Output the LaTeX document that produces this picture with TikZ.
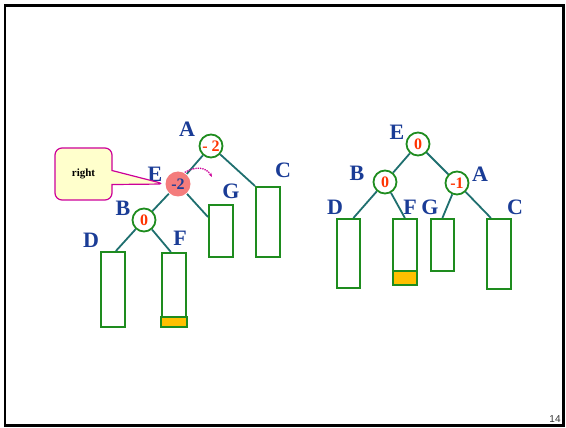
\documentclass[tikz,border=0pt]{standalone}
\usepackage{fontspec}
\setmainfont{Liberation Serif}
\setsansfont{Liberation Sans}
\usetikzlibrary{
    arrows.meta,
    shapes.callouts
}
\definecolor{keyblue}{HTML}{1A3C96}
\definecolor{balred}{HTML}{FF3300}
\definecolor{boxgreen}{HTML}{1E8C1E}
\definecolor{edgeteal}{HTML}{1F6F6F}
\definecolor{hotpink}{HTML}{F47C7C}
\definecolor{notefill}{HTML}{FFFFCC}
\definecolor{noteline}{HTML}{CC0099}
\definecolor{grownfill}{HTML}{FFC000}
\tikzset{
    % Tree parts
    edge/.style={draw=edgeteal,line width=1.8pt},
    key/.style={text=keyblue,font=\bfseries\fontsize{22}{22}\selectfont},
    balance/.style={circle,draw=boxgreen,line width=1.8pt,fill=white,minimum size=23pt,inner sep=0pt,
        text=balred,font=\bfseries\fontsize{16}{16}\selectfont},
    critical/.style={balance,draw=none,fill=hotpink,minimum size=25pt,text=keyblue},
    subtree/.style={draw=boxgreen,line width=1.8pt,fill=white,anchor=north west,inner sep=0pt,
        minimum width=#1},
    subtree/.default=24pt,
    grown/.style={subtree=#1,fill=grownfill},
    grown/.default=24pt,
    %
    % Callout
    note/.style={rectangle callout,rounded corners=7pt,draw=noteline,line width=1.2pt,fill=notefill,
        minimum width=57pt,minimum height=52pt,font=\bfseries\fontsize{11}{11}\selectfont},
    turn/.style={draw=noteline,densely dotted,line width=1.3pt,-{Stealth[length=4pt]}}
}

\begin{document}
\begin{tikzpicture}[x=1pt,y=-1pt]
    \useasboundingbox (0,0) rectangle (566,428);
    \draw[line width=2.5pt] (5,5.5) rectangle (563.5,425.5);

    % before the rotation
    \node[subtree,minimum height=75pt] (lD) at (100,251) {};
    \node[subtree,minimum height=64pt] (lF) at (161,252) {};
    \node[grown=26pt,minimum height=10pt] (lFx) at (160,316) {};
    \node[subtree,minimum height=52pt] (lG) at (208,204) {};
    \node[subtree,minimum height=70pt] (lC) at (255,186) {};
    \node[balance] (lA) at (211,146) {- 2};
    \node[critical] (lE) at (178,184) {-2};
    \node[balance] (lB) at (144,220) {0};
    \draw[edge] (lA) -- (lE);
    \draw[edge] (lA) -- (lC.north west);
    \draw[edge] (lE) -- ([yshift=-13pt]lG.north west);
    \draw[edge] (lE) -- (lB);
    \draw[edge] (lB) -- ([xshift=3pt]lD.north);
    \draw[edge] (lB) -- ([xshift=-3pt]lF.north);
    \node[key] (klA) at (187,129) {A};
    \node[key] (klE) at (155,174) {E};
    \node[key] (klB) at (123,208) {B};
    \node[key] (klD) at (91,240) {D};
    \node[key] (klF) at (180,238) {F};
    \node[key] (klG) at (231,191) {G};
    \node[key] (klC) at (283,170) {C};
    \coordinate (turnend) at (212,177);
    \draw[turn] (lE.60) .. controls (196,166) and (206,167) .. (turnend);
    \node[note,callout absolute pointer={(lE.west)},callout pointer width=14pt] (why) at (83.5,174) {right};

    % after the rotation
    \node[subtree=23pt,minimum height=69pt] (rD) at (336,218) {};
    \node[subtree,minimum height=52pt] (rF) at (392,218) {};
    \node[grown,minimum height=14pt] (rFx) at (392,270) {};
    \node[subtree=23pt,minimum height=52pt] (rG) at (430,218) {};
    \node[subtree,minimum height=70pt] (rC) at (486,218) {};
    \node[balance] (rE) at (418,144) {0};
    \node[balance] (rB) at (385,182) {0};
    \node[balance] (rA) at (457,183) {-1};
    \draw[edge] (rE) -- (rB);
    \draw[edge] (rE) -- (rA);
    \draw[edge] (rB) -- ([xshift=5pt]rD.north);
    \draw[edge] (rB) -- (rF.north);
    \draw[edge] (rA) -- (rG.north);
    \draw[edge] (rA) -- ([xshift=-8pt]rC.north);
    \node[key] (krE) at (397,132) {E};
    \node[key] (krB) at (357,173) {B};
    \node[key] (krA) at (480,174) {A};
    \node[key] (krD) at (335,207) {D};
    \node[key] (krF) at (410,207) {F};
    \node[key] (krG) at (430,207) {G};
    \node[key] (krC) at (515,207) {C};

    \node[font=\sffamily\fontsize{10}{10}\selectfont,text=black!80] (page) at (555,419) {14};
\end{tikzpicture}
\end{document}
